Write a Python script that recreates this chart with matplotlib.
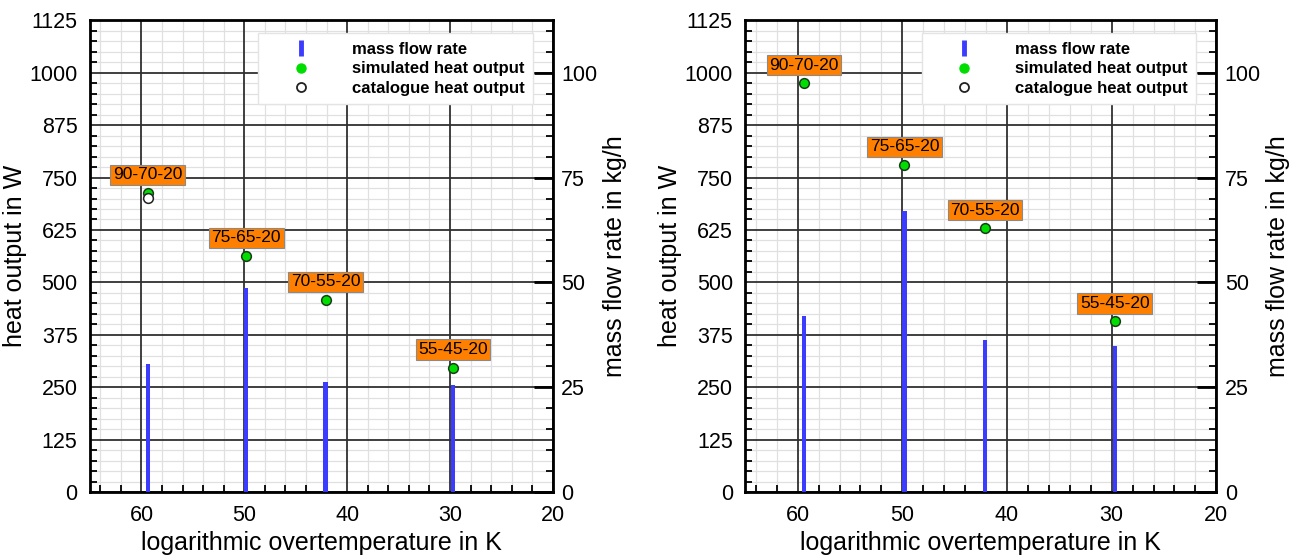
import numpy as np
import matplotlib.pyplot as plt
from matplotlib.lines import Line2D
from matplotlib.ticker import MultipleLocator

plt.rcParams['font.family'] = ['Liberation Sans', 'DejaVu Sans']

# logarithmic overtemperature of the four operating points
labels = ["90-70-20", "75-65-20", "70-55-20", "55-45-20"]
dT = [59.4, 49.8, 42.1, 29.7]

# left panel
heat_sim_l = [713, 563, 458, 297]
heat_cat_l = [702, np.nan, np.nan, np.nan]
mflow_l = [30.5, 48.7, 26.3, 25.6]

# right panel
heat_sim_r = [975, 780, 629, 407]
heat_cat_r = [np.nan, np.nan, np.nan, np.nan]
mflow_r = [42.1, 67.0, 36.2, 34.9]

x_major = [60, 50, 40, 30, 20]
y_major = np.arange(0, 1126, 125)

blue = "#3c3cff"
green = "#00dd00"
orange = "#ff8000"


def panel(ax, sim, cat, mflow):
    ax.set_xlim(65, 20)
    ax.set_ylim(0, 1125)
    ax.set_yticks(y_major)
    ax.set_xticks(x_major)
    ax.xaxis.set_minor_locator(MultipleLocator(2))
    ax.yaxis.set_minor_locator(MultipleLocator(25))
    ax.grid(which="minor", color="#e0e0e0", linewidth=0.9)
    ax.set_axisbelow(True)
    # major grid drawn on top of the minor one
    for xv in x_major:
        ax.axvline(xv, color="#303030", linewidth=1.3, zorder=0.8)
    for yv in y_major:
        ax.axhline(yv, color="#303030", linewidth=1.3, zorder=0.8)
    ax.tick_params(which="both", direction="in", labelsize=15.5, width=1.3)
    ax.tick_params(which="major", length=0, pad=9)
    ax.tick_params(which="minor", length=5)
    for s in ax.spines.values():
        s.set_linewidth(2)
    ax.set_xlabel("logarithmic overtemperature in K", fontsize=18, labelpad=4)
    ax.set_ylabel("heat output in W", fontsize=18, labelpad=2)

    ax2 = ax.twinx()
    ax2.set_ylim(0, 112.5)
    ax2.set_yticks([0, 25, 50, 75, 100])
    ax2.yaxis.set_minor_locator(MultipleLocator(5))
    ax2.tick_params(which="both", direction="in", labelsize=15.5, width=1.3)
    ax2.tick_params(which="major", length=14, width=2, pad=6)
    ax2.tick_params(which="minor", length=5)
    ax2.set_ylabel("mass flow rate in kg/h", fontsize=18, labelpad=4)
    ax2.bar(dT, mflow, width=0.4, color=blue, zorder=2)

    ax2.plot(dT, np.array(sim) / 10, "o", color=green, markersize=7,
             markeredgecolor="#1a3d1a", markeredgewidth=1.1, zorder=3)
    ax2.plot(dT, np.array(cat) / 10, "o", color="white", markersize=7,
             markeredgecolor="#222222", markeredgewidth=1.1, zorder=4)
    for x, y, t in zip(dT, sim, labels):
        ax2.annotate(t, (x, y / 10), xytext=(0, 13), textcoords="offset points",
                     ha="center", va="center", fontsize=12.5, zorder=5,
                     bbox=dict(boxstyle="square,pad=0.15", fc=orange, ec="#8a8a8a", lw=0.8))

    handles = [
        Line2D([], [], linestyle="none", marker="|", color=blue, markersize=11, markeredgewidth=3.5),
        Line2D([], [], linestyle="none", marker="o", color=green, markersize=6.5),
        Line2D([], [], linestyle="none", marker="o", markerfacecolor="white",
               markeredgecolor="#222222", markeredgewidth=1.3, markersize=6.5),
    ]
    leg = ax2.legend(handles, ["mass flow rate", "simulated heat output", "catalogue heat output"],
                     loc="upper right", bbox_to_anchor=(0.957, 0.972), borderaxespad=0,
                     fancybox=False, framealpha=1, edgecolor="#e4e4e4",
                     handlelength=4.1, handletextpad=1.0, borderpad=0.5,
                     labelspacing=0.28, prop={"weight": "bold", "size": 12})
    leg.set_zorder(10)


fig = plt.figure(figsize=(12.94, 5.6), dpi=100)
ax_l = fig.add_axes([0.0696, 0.121, 0.3576, 0.843])
ax_r = fig.add_axes([0.576, 0.121, 0.364, 0.843])
panel(ax_l, heat_sim_l, heat_cat_l, mflow_l)
panel(ax_r, heat_sim_r, heat_cat_r, mflow_r)

fig.savefig("out.png", dpi=100)
